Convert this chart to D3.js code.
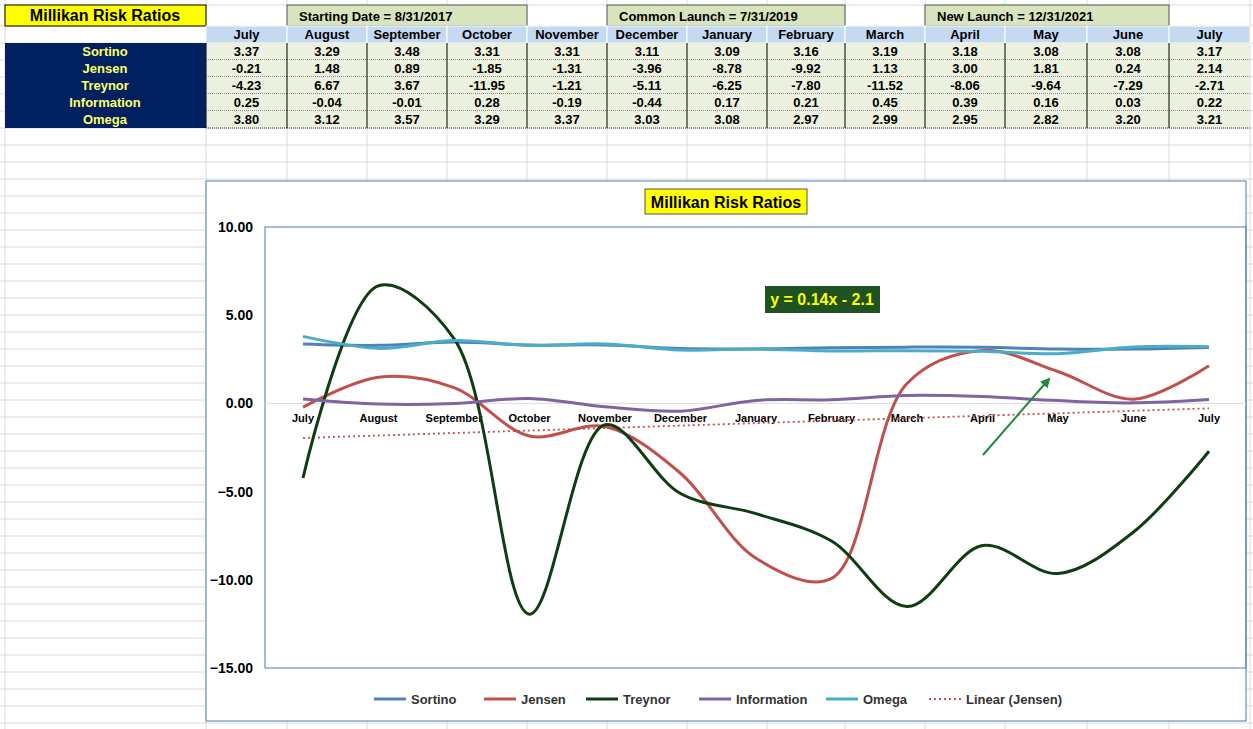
<!DOCTYPE html><html><head><meta charset="utf-8"><script src="https://cdn.jsdelivr.net/npm/d3@7"></script>
<style>body{margin:0;background:#fff}svg text{font-family:"Liberation Sans",Arial,sans-serif}</style></head><body>
<svg id="c" width="1253" height="729"></svg>
<script>
const months=["July","August","September","October","November","December","January","February","March","April","May","June","July"];
const seriesNames=["Sortino","Jensen","Treynor","Information","Omega"];
const sortino=[3.37,3.29,3.48,3.31,3.31,3.11,3.09,3.16,3.19,3.18,3.08,3.08,3.17];
const jensen=[-0.21,1.48,0.89,-1.85,-1.31,-3.96,-8.78,-9.92,1.13,3.00,1.81,0.24,2.14];
const treynor=[-4.23,6.67,3.67,-11.95,-1.21,-5.11,-6.25,-7.80,-11.52,-8.06,-9.64,-7.29,-2.71];
const information=[0.25,-0.04,-0.01,0.28,-0.19,-0.44,0.17,0.21,0.45,0.39,0.16,0.03,0.22];
const omega=[3.80,3.12,3.57,3.29,3.37,3.03,3.08,2.97,2.99,2.95,2.82,3.20,3.21];
const yTicks=[10,5,0,-5,-10,-15];
const colors=["#4f81bd","#c0504d","#0f3d12","#8064a2","#4bacc6"];
const data=[sortino,jensen,treynor,information,omega];
const svg=d3.select("#c");
// grid
const colX=[5,206,287,367,447,527,607,687,767,845,925,1005,1087,1169,1250];
const rowY=[5,26];for(let y=43;y<=729;y+=17)rowY.push(y);
const g0=svg.append("g");
colX.forEach(x=>g0.append("line").attr("x1",x).attr("x2",x).attr("y1",0).attr("y2",729).attr("stroke","#dadcdd"));
rowY.forEach(y=>g0.append("line").attr("x1",0).attr("x2",1253).attr("y1",y).attr("y2",y).attr("stroke","#dadcdd"));
// title
svg.append("rect").attr("x",5).attr("y",5).attr("width",201).attr("height",21).attr("fill","#ffff00").attr("stroke","#000");
svg.append("text").attr("x",105).attr("y",21).attr("text-anchor","middle").attr("font-size",16).attr("font-weight","bold").text("Millikan Risk Ratios");
[[287,527,"Starting Date = 8/31/2017"],[607,845,"Common Launch = 7/31/2019"],[925,1169,"New Launch = 12/31/2021"]].forEach(([a,b,t])=>{
 svg.append("rect").attr("x",a).attr("y",5).attr("width",b-a).attr("height",21).attr("fill","#d8e4bc").attr("stroke","#555");
 svg.append("text").attr("x",a+12).attr("y",21).attr("font-size",13).attr("font-weight","bold").text(t);});
months.forEach((m,i)=>{const x=colX[i+1],w=colX[i+2]-x;
 svg.append("rect").attr("x",x).attr("y",26).attr("width",w).attr("height",17).attr("fill","#c5d9f1").attr("stroke","#fff");
 svg.append("text").attr("x",x+w/2).attr("y",39).attr("text-anchor","middle").attr("font-size",13).attr("font-weight","bold").text(m);
 data.forEach((s,j)=>{const y=43+17*j;
  svg.append("rect").attr("x",x).attr("y",y).attr("width",w).attr("height",17).attr("fill","#ebf1de");
  svg.append("line").attr("x1",x).attr("x2",x+w).attr("y1",y+17).attr("y2",y+17).attr("stroke","#333").attr("stroke-dasharray","1,1");
  svg.append("line").attr("x1",x).attr("x2",x).attr("y1",y).attr("y2",y+17).attr("stroke","#000");
  svg.append("text").attr("x",x+w/2).attr("y",y+13).attr("text-anchor","middle").attr("font-size",13).attr("font-weight","bold").text(s[i].toFixed(2));});});
svg.append("rect").attr("x",5).attr("y",43).attr("width",201).attr("height",85).attr("fill","#002060");
seriesNames.forEach((n,j)=>svg.append("text").attr("x",105).attr("y",56+17*j).attr("text-anchor","middle").attr("font-size",13).attr("font-weight","bold").attr("fill","#ffff66").text(n));
// chart
svg.append("rect").attr("x",206).attr("y",181).attr("width",1040).attr("height",540).attr("fill","#fff").attr("stroke","#4a7ea0");
svg.append("rect").attr("x",645).attr("y",189).attr("width",162).attr("height",25).attr("fill","#ffff00").attr("stroke","#555");
svg.append("text").attr("x",726).attr("y",208).attr("text-anchor","middle").attr("font-size",16).attr("font-weight","bold").text("Millikan Risk Ratios");
const x=d3.scalePoint().domain(d3.range(13)).range([303,1209]);
const y=d3.scaleLinear().domain([-15,10]).range([668,227]);
svg.append("rect").attr("x",265).attr("y",227).attr("width",981).attr("height",441).attr("fill","none").attr("stroke","#4a7ea0");
const ya=svg.append("g").attr("transform","translate(265,0)").call(d3.axisLeft(y).tickValues(yTicks).tickFormat(d3.format(".2f")).tickSize(0).tickPadding(12));
ya.select(".domain").remove();ya.selectAll("text").attr("font-size",14).attr("font-weight","bold").attr("fill","#000");
svg.append("line").attr("x1",265).attr("x2",1246).attr("y1",y(0)).attr("y2",y(0)).attr("stroke","#ddd");
months.forEach((m,i)=>svg.append("text").attr("x",x(i)).attr("y",y(0)+19).attr("text-anchor","middle").attr("font-size",11).attr("font-weight","bold").text(m));
const trend=d3.range(13).map(i=>0.14*(i+1)-2.1);
svg.append("path").attr("d",d3.line().x((d,i)=>x(i)).y(d=>y(d))(trend)).attr("fill","none").attr("stroke","#c0504d").attr("stroke-width",1.8).attr("stroke-dasharray","2,3");
const line=d3.line().x((d,i)=>x(i)).y(d=>y(d)).curve(d3.curveCatmullRom.alpha(0.5));
data.forEach((s,j)=>svg.append("path").attr("d",line(s)).attr("fill","none").attr("stroke",colors[j]).attr("stroke-width",3));
svg.append("rect").attr("x",765).attr("y",286).attr("width",115).attr("height",27).attr("fill","#1e5220");
svg.append("text").attr("x",822).attr("y",305).attr("text-anchor","middle").attr("font-size",16).attr("font-weight","bold").attr("fill","#ffff00").text("y = 0.14x - 2.1");
svg.append("defs").append("marker").attr("id","ar").attr("viewBox","0 0 10 10").attr("refX",8).attr("refY",5).attr("markerWidth",5).attr("markerHeight",5).attr("orient","auto").append("path").attr("d","M0,0L10,5L0,10z").attr("fill","#1e8a3c");
svg.append("line").attr("x1",983).attr("y1",455).attr("x2",1049).attr("y2",379).attr("stroke","#1e8a3c").attr("stroke-width",2).attr("marker-end","url(#ar)");
const leg=[...seriesNames,"Linear (Jensen)"];const lx=[374,484,586,699,826,929];
leg.forEach((n,i)=>{const l=svg.append("line").attr("x1",lx[i]).attr("x2",lx[i]+32).attr("y1",699).attr("y2",699).attr("stroke",i<5?colors[i]:"#c0504d").attr("stroke-width",i<5?3:1.8);
 if(i==5)l.attr("stroke-dasharray","2,3");
 svg.append("text").attr("x",lx[i]+37).attr("y",704).attr("font-size",13).attr("font-weight","bold").attr("fill","#333").text(n);});
</script></body></html>
